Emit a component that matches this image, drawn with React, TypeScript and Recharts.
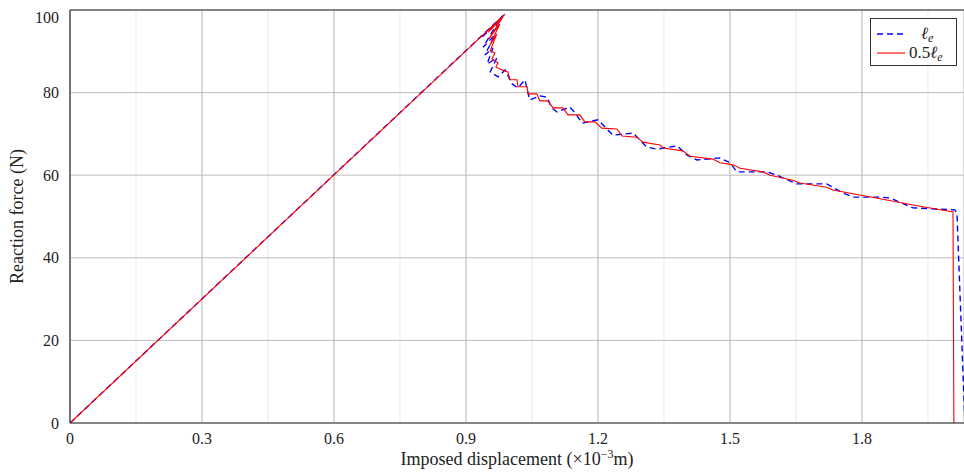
import React from "react";
import { LineChart, Line, XAxis, YAxis, CartesianGrid, ReferenceLine } from "recharts";

const xTicks = [0, 0.3, 0.6, 0.9, 1.2, 1.5, 1.8];
const xMinorTicks = [0, 0.15, 0.3, 0.45, 0.6, 0.75, 0.9, 1.05, 1.2, 1.35, 1.5, 1.65, 1.8, 1.95];
const yTicks = [0, 20, 40, 60, 80, 100];
const yMinorTicks = [0, 10, 20, 30, 40, 50, 60, 70, 80, 90, 100];

// ℓe series (blue dashed): [displacement, force]
const seriesLe: [number, number][] = [
  [0, 0], [0.986, 98.8], [0.934, 93.2], [0.973, 97.1], [0.939, 91.0], [0.966, 94.0],
  [0.943, 89.1], [0.961, 90.8], [0.948, 86.9], [0.970, 88.4], [0.955, 85.0], [0.973, 83.8],
  [0.989, 85.5], [1.005, 82.1], [1.018, 81.1], [1.034, 83.1], [1.045, 78.2], [1.068, 79.2],
  [1.084, 78.9], [1.095, 76.3], [1.107, 75.3], [1.136, 76.5], [1.148, 75.1], [1.164, 72.6],
  [1.2, 73.4], [1.234, 69.7], [1.28, 70.2], [1.311, 66.8], [1.334, 66.3], [1.38, 67.1],
  [1.402, 64.9], [1.425, 63.7], [1.477, 64.2], [1.5, 63.0], [1.516, 60.8], [1.584, 60.8],
  [1.607, 60.0], [1.652, 57.9], [1.72, 57.9], [1.757, 55.7], [1.78, 54.7], [1.841, 54.7],
  [1.864, 54.5], [1.916, 52.1], [2.011, 51.6], [2.016, 50.8], [2.034, 0],
];

// 0.5ℓe series (red solid)
const seriesHalf: [number, number][] = [
  [0, 0], [0.989, 99.0], [0.950, 94.6], [0.984, 98.3], [0.952, 93.0], [0.977, 96.6],
  [0.954, 91.4], [0.970, 94.2], [0.955, 90.1], [0.966, 89.6], [0.959, 88.2], [0.973, 87.2],
  [0.968, 86.2], [0.982, 85.5], [0.995, 85.0], [1.0, 83.1], [1.016, 83.1], [1.018, 81.4],
  [1.039, 81.4], [1.041, 79.7], [1.061, 79.7], [1.068, 78.0], [1.086, 78.0], [1.098, 76.3],
  [1.12, 76.3], [1.132, 74.6], [1.159, 74.6], [1.17, 72.9], [1.193, 72.9], [1.209, 71.4],
  [1.243, 71.2], [1.255, 69.5], [1.289, 69.2], [1.302, 68.0], [1.341, 67.3], [1.348, 66.6],
  [1.393, 65.9], [1.409, 64.6], [1.461, 63.9], [1.477, 63.0], [1.507, 62.5], [1.523, 61.7],
  [1.575, 60.8], [1.591, 60.0], [1.643, 58.8], [1.659, 58.1], [1.72, 57.1], [1.734, 56.4],
  [1.795, 55.2], [1.857, 54.0], [1.916, 52.8], [2.007, 51.1], [2.009, 0],
];

const dataLe = seriesLe.map(([x, y]) => ({ x, y }));
const dataHalf = seriesHalf.map(([x, y]) => ({ x, y }));

const FONT = "'Liberation Serif', 'DejaVu Serif', serif";
const X_MAX = 2.032;

const XLabel = (props: any) => {
  const vb = props.viewBox || {};
  const cx = vb.x + vb.width / 2;
  const cy = vb.y + 42;
  return (
    <text x={cx} y={cy} textAnchor="middle" fontFamily={FONT} fontSize={18} fill="#222">
      Imposed displacement (×10
      <tspan dy={-7} fontSize={12}>−3</tspan>
      <tspan dy={7}>m)</tspan>
    </text>
  );
};

const YLabel = (props: any) => {
  const vb = props.viewBox || {};
  const cy = vb.y + vb.height / 2;
  const cx = 15;
  return (
    <text
      x={cx}
      y={cy}
      transform={`rotate(-90 ${cx} ${cy})`}
      textAnchor="middle"
      fontFamily={FONT}
      fontSize={18}
      fill="#222"
    >
      Reaction force (N)
    </text>
  );
};

export default function App() {
  return (
    <div
      style={{
        position: "fixed",
        left: 8,
        top: 8,
        width: 956,
        height: 467,
        fontFamily: FONT,
        overflow: "hidden",
        background: "#fff",
      }}
    >
      <style>{"html,body{overflow:hidden}"}</style>
      <LineChart width={956} height={467} margin={{ top: 2, right: 0, bottom: 8, left: 0 }}>
        <XAxis xAxisId="minor" type="number" dataKey="x" domain={[0, X_MAX]} ticks={xMinorTicks} hide allowDataOverflow />
        <YAxis yAxisId="minor" type="number" domain={[0, 100]} ticks={yMinorTicks} hide />
        <CartesianGrid xAxisId="minor" yAxisId="minor" stroke="#e9e9e9" strokeWidth={1} />
        <XAxis
          type="number"
          dataKey="x"
          domain={[0, X_MAX]}
          ticks={xTicks}
          allowDataOverflow
          height={44}
          tickLine={false}
          axisLine={{ stroke: "#333", strokeWidth: 1.2 }}
          tick={{ fontFamily: FONT, fontSize: 16, fill: "#222" }}
          tickFormatter={(v: number) => (v === 0 ? "0" : v.toFixed(1))}
          tickMargin={4}
          label={<XLabel />}
        />
        <YAxis
          type="number"
          domain={[0, 100]}
          ticks={yTicks}
          width={62}
          tickLine={false}
          axisLine={{ stroke: "#333", strokeWidth: 1.2 }}
          tick={{ fontFamily: FONT, fontSize: 16, fill: "#222" }}
          tickMargin={5}
          label={<YLabel />}
        />
        <CartesianGrid stroke="#bdbdbd" strokeWidth={1} />
        <ReferenceLine y={100} stroke="#333" strokeWidth={1.2} />
        <Line
          data={dataLe}
          dataKey="y"
          type="linear"
          stroke="#0000ff"
          strokeWidth={1.4}
          strokeDasharray="6 4"
          dot={false}
          isAnimationActive={false}
        />
        <Line
          data={dataHalf}
          dataKey="y"
          type="linear"
          stroke="#ff0000"
          strokeWidth={1.1}
          dot={false}
          isAnimationActive={false}
        />
      </LineChart>
      <div
        style={{
          position: "absolute",
          left: 862,
          top: 10,
          width: 87,
          height: 48,
          border: "1px solid #333",
          background: "#fff",
          boxSizing: "border-box",
        }}
      >
        <svg width={87} height={48}>
          <line x1={6} y1={15} x2={32} y2={15} stroke="#0000ff" strokeWidth={1.4} strokeDasharray="6 4" />
          <text x={50} y={20} fontFamily={FONT} fontSize={17} fill="#222">
            <tspan fontStyle="italic">ℓ</tspan>
            <tspan dy={3} fontSize={12} fontStyle="italic">e</tspan>
          </text>
          <line x1={6} y1={34} x2={34} y2={34} stroke="#ff0000" strokeWidth={1.1} />
          <text x={38} y={39} fontFamily={FONT} fontSize={17} fill="#222">
            0.5<tspan fontStyle="italic">ℓ</tspan>
            <tspan dy={3} fontSize={12} fontStyle="italic">e</tspan>
          </text>
        </svg>
      </div>
    </div>
  );
}
